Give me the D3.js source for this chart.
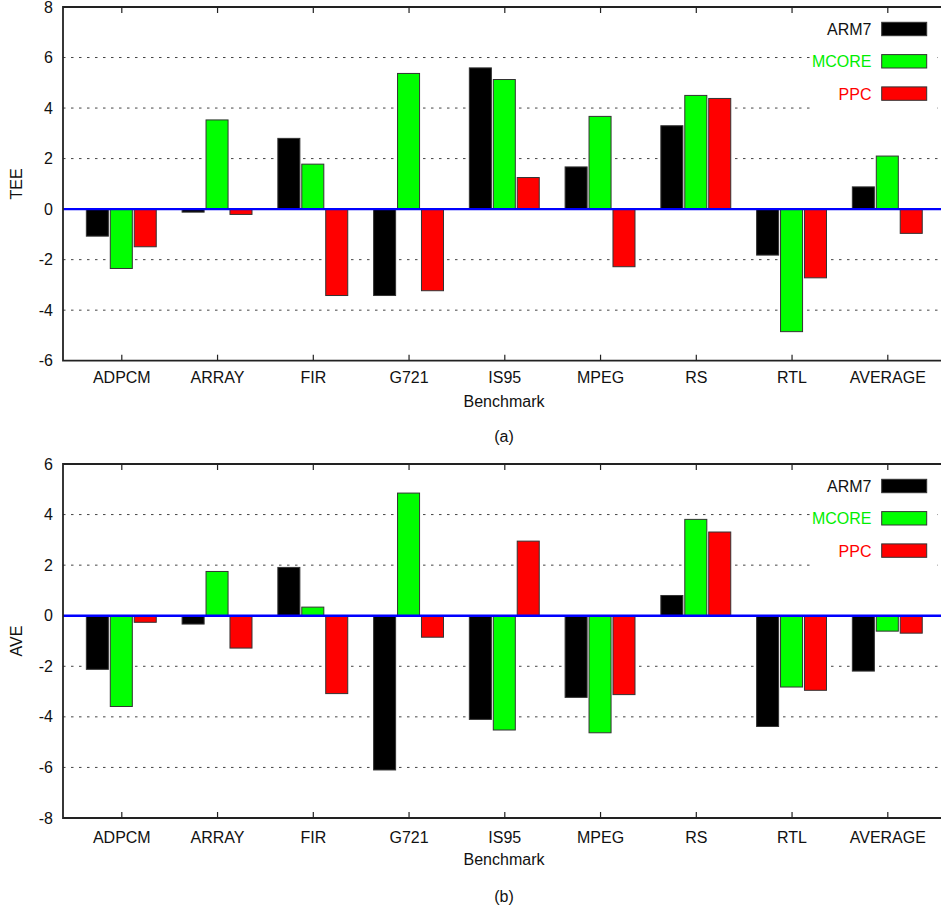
<!DOCTYPE html>
<html>
<head>
<meta charset="utf-8">
<script src="https://cdn.jsdelivr.net/npm/d3@7"></script>
<style>
  html, body { margin: 0; padding: 0; background: #fff; }
  svg { display: block; font-family: "Liberation Sans", Arial, Helvetica, sans-serif; }
</style>
</head>
<body>
<svg id="chart" width="941" height="907"></svg>
<script>
// ---- data ----
const categories = ["ADPCM", "ARRAY", "FIR", "G721", "IS95", "MPEG", "RS", "RTL", "AVERAGE"];
const seriesNames = ["ARM7", "MCORE", "PPC"];
const seriesColors = ["#000000", "#00ff00", "#ff0000"];
const legendTextColors = ["#111111", "#00ee00", "#ff0000"];

const teeARM7  = [-1.07, -0.12,  2.80, -3.42,  5.59,  1.67, 3.30, -1.82,  0.88];
const teeMCORE = [-2.35,  3.53,  1.78,  5.37,  5.13,  3.67, 4.50, -4.85,  2.10];
const teePPC   = [-1.49, -0.21, -3.42, -3.23,  1.25, -2.28, 4.38, -2.72, -0.96];

const aveARM7  = [-2.12, -0.33,  1.91, -6.10, -4.10, -3.23, 0.80, -4.38, -2.19];
const aveMCORE = [-3.59,  1.75,  0.34,  4.85, -4.52, -4.63, 3.81, -2.82, -0.61];
const avePPC   = [-0.26, -1.28, -3.08, -0.85,  2.95, -3.12, 3.31, -2.95, -0.69];

const teeTicks = [-6, -4, -2, 0, 2, 4, 6, 8];
const aveTicks = [-8, -6, -4, -2, 0, 2, 4, 6];

// ---- layout ----
const svg = d3.select("#chart");
const plotLeft = 63, plotRight = 941;
const x = d3.scaleLinear().domain([0, categories.length - 1]).range([121.3, 887.3]);
const step = x(1) - x(0);
const barOffset = 0.25 * step;
const barWidth = 0.23 * step;

function drawPanel(cfg) {
  const g = svg.append("g");
  const y = d3.scaleLinear().domain(cfg.domain).range([cfg.bottom, cfg.top]);
  const series = [cfg.s0, cfg.s1, cfg.s2];

  // gridlines (dashed)
  g.append("g").selectAll("line").data(cfg.ticks.filter(t => t !== 0 && t !== cfg.domain[0] && t !== cfg.domain[1]))
    .join("line")
    .attr("x1", plotLeft).attr("x2", plotRight)
    .attr("y1", d => y(d)).attr("y2", d => y(d))
    .attr("stroke", "#444").attr("stroke-width", 1)
    .attr("stroke-dasharray", "2.5,5.5");

  // legend background blanking gridlines
  g.append("rect")
    .attr("x", 810).attr("y", cfg.top + 3)
    .attr("width", 127).attr("height", 103)
    .attr("fill", "#fff");

  // bars
  series.forEach((vals, k) => {
    g.append("g").selectAll("rect").data(vals).join("rect")
      .attr("x", (d, i) => x(i) + (k - 1) * barOffset - barWidth / 2)
      .attr("width", barWidth)
      .attr("y", d => Math.min(y(d), y(0)))
      .attr("height", d => Math.abs(y(d) - y(0)))
      .attr("fill", seriesColors[k])
      .attr("stroke", "#333").attr("stroke-width", 1);
  });

  // zero line
  g.append("line")
    .attr("x1", plotLeft).attr("x2", plotRight)
    .attr("y1", y(0)).attr("y2", y(0))
    .attr("stroke", "#0000ff").attr("stroke-width", 2.4);

  // frame
  g.append("path")
    .attr("d", `M${plotRight},${cfg.top}H${plotLeft}V${cfg.bottom}H${plotRight}`)
    .attr("fill", "none").attr("stroke", "#222").attr("stroke-width", 1.8);

  // y axis labels (ASCII hyphen minus, as in the original)
  const yAxis = d3.axisLeft(y).tickValues(cfg.ticks).tickSize(0).tickPadding(10).tickFormat(d => String(d));
  const ya = g.append("g").attr("transform", `translate(${plotLeft},0)`).call(yAxis);
  ya.select(".domain").remove();
  ya.selectAll("text").attr("font-size", 16).attr("fill", "#111")
    .attr("font-family", "Liberation Sans, Arial, sans-serif");

  // bottom x axis (inward ticks + labels)
  const idx = d3.range(categories.length);
  const xb = d3.axisBottom(x).tickValues(idx).tickFormat(i => categories[i]).tickSize(-6).tickPadding(cfg.labelPad);
  const xa = g.append("g").attr("transform", `translate(0,${cfg.bottom})`).call(xb);
  xa.select(".domain").remove();
  xa.selectAll("line").attr("stroke", "#222").attr("stroke-width", 1.2);
  xa.selectAll("text").attr("font-size", 16).attr("fill", "#111")
    .attr("font-family", "Liberation Sans, Arial, sans-serif");

  // top x axis (inward ticks only)
  const xt = d3.axisTop(x).tickValues(idx).tickFormat("").tickSize(-6);
  const xta = g.append("g").attr("transform", `translate(0,${cfg.top})`).call(xt);
  xta.select(".domain").remove();
  xta.selectAll("line").attr("stroke", "#222").attr("stroke-width", 1.2);

  // y title
  g.append("text")
    .attr("transform", `translate(21.5,${(cfg.top + cfg.bottom) / 2}) rotate(-90)`)
    .attr("text-anchor", "middle").attr("font-size", 16).attr("fill", "#111")
    .text(cfg.yLabel);

  // x title & caption
  g.append("text").attr("x", 504).attr("y", cfg.xTitleY)
    .attr("text-anchor", "middle").attr("font-size", 16).attr("fill", "#111")
    .text("Benchmark");
  g.append("text").attr("x", 504).attr("y", cfg.captionY)
    .attr("text-anchor", "middle").attr("font-size", 16).attr("fill", "#111")
    .text(cfg.caption);

  // legend
  seriesNames.forEach((name, k) => {
    const sy = cfg.top + 15.3 + k * 32.3;
    g.append("rect")
      .attr("x", 881.7).attr("y", sy).attr("width", 45).attr("height", 13.4)
      .attr("fill", seriesColors[k]).attr("stroke", "#333").attr("stroke-width", 1);
    g.append("text")
      .attr("x", 871.5).attr("y", sy + 12.7)
      .attr("text-anchor", "end").attr("font-size", 16).attr("fill", legendTextColors[k])
      .text(name);
  });
}

drawPanel({
  domain: [-6, 8], ticks: teeTicks, top: 7, bottom: 360.7,
  s0: teeARM7, s1: teeMCORE, s2: teePPC,
  yLabel: "TEE", caption: "(a)", labelPad: 11, xTitleY: 406.7, captionY: 441.5
});
drawPanel({
  domain: [-8, 6], ticks: aveTicks, top: 464, bottom: 818,
  s0: aveARM7, s1: aveMCORE, s2: avePPC,
  yLabel: "AVE", caption: "(b)", labelPad: 13.5, xTitleY: 865, captionY: 901.5
});
</script>
</body>
</html>
